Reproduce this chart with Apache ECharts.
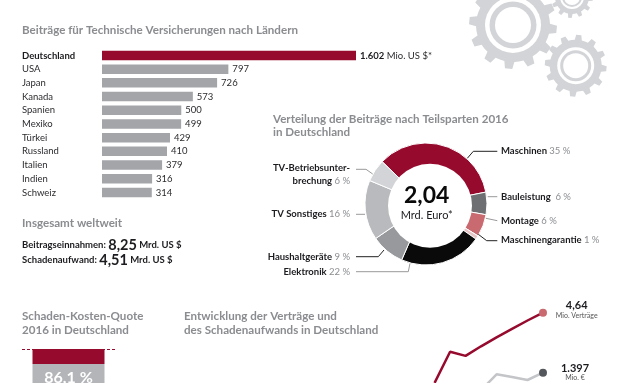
<!DOCTYPE html>
<html><head><meta charset="utf-8">
<style>html,body{margin:0;padding:0;background:#fff}#c{width:621px;height:383px}</style>
<script src="https://cdn.jsdelivr.net/npm/echarts@6/dist/echarts.min.js"></script>
</head><body><div id="c"></div>
<script>
const countries=['Deutschland','USA','Japan','Kanada','Spanien','Mexiko','Türkei','Russland','Italien','Indien','Schweiz'];
const premiums=[1602,797,726,573,500,499,429,410,379,316,314];
const sliceNames=['Maschinen','Bauleistung','Montage','Maschinengarantie','Elektronik','Haushaltgeräte','TV Sonstiges','TV-Betriebsunterbrechung'];
const sliceValues=[35,6,6,1,22,9,16,6];
const sliceColors=['#960a2e','#6e6f72','#c96a70','#e8c4c6','#0a0a0a','#97999c','#b9babd','#d3d4d7'];
const quoteLoss=[86.1];
const quoteRest=[13.9];
const years=['2009','2010','2011','2012','2013','2014','2015','2016'];
const contracts=[3.47,3.99,3.92,4.08,4.23,4.37,4.51,4.64];
const claims=[null,null,null,1221,1381,1353,1324,1397];

const F='"Lato","Open Sans",sans-serif';
const DARK='#1c1c20',GREY='#8b8d91',TITLE='#8a8c90';
function fmt(n){return String(n).replace(/\B(?=(\d{3})+$)/g,'.');}
function txt(x,y,text,o){o=o||{};return {type:'text',z:20,x:x,y:y,style:Object.assign({text:text,fontFamily:F,fontSize:9.5,fontWeight:'bold',fill:DARK,align:'left',verticalAlign:'middle'},o)};}
function title(x,y,t){return txt(x,y,t,{fontSize:11.6,fill:TITLE});}
function lead(pts,c){return {type:'polyline',z:20,shape:{points:pts},style:{stroke:c,lineWidth:1,fill:null}};}
function nameVal(x,y,n,v,al){return txt(x,y,'{n|'+n+'} {v|'+v+'}',{align:al,rich:{n:{fontFamily:F,fontSize:9.5,fontWeight:'bold',fill:DARK},v:{fontFamily:F,fontSize:9.5,fontWeight:'normal',fill:GREY}}});}
function gear(cx,cy,rOut,rBody,teeth,rings){
  const pts=[];const st=Math.PI*2/teeth;
  for(let i=0;i<teeth;i++){const a=i*st+0.1;
    [[-.5,rBody],[-.26,rBody],[-.16,rOut],[.16,rOut],[.26,rBody]].forEach(p=>{pts.push([cx+p[1]*Math.cos(a+p[0]*st),cy+p[1]*Math.sin(a+p[0]*st)]);});
  }
  const g=[{type:'polygon',z:1,shape:{points:pts},style:{fill:'#d2d4d7'}}];
  rings.forEach((r,i)=>g.push({type:'circle',z:1+i+1,shape:{cx:cx,cy:cy,r:r},style:{fill:i%2?'#d2d4d7':'#fff'}}));
  return g;
}
const W='#fff';
const graphics=[].concat(
  gear(513,25,44,37,12,[28,23.5,18]),
  gear(575.7,65.7,31,26,12,[18.5,15.5,12.5]),
  gear(572,-3,21,17,12,[12,10,8]),
  [
  {type:'circle',z:10,shape:{cx:430,cy:205.7,r:42},style:{fill:W}},
  title(22,30.5,'Beiträge für Technische Versicherungen nach Ländern'),
  title(273,119,'Verteilung der Beiträge nach Teilsparten 2016'),
  title(273,132.5,'in Deutschland'),
  title(22,223,'Insgesamt weltweit'),
  title(22,316.5,'Schaden-Kosten-Quote'),
  title(22,330,'2016 in Deutschland'),
  title(184,316.5,'Entwicklung der Verträge und'),
  title(184,330,'des Schadenaufwands in Deutschland'),
  txt(22,245,'{a|Beitragseinnahmen: }{b|8,25}{a| Mrd. US $}',{rich:{a:{fontFamily:F,fontSize:9.5,fontWeight:'bold',fill:DARK},b:{fontFamily:F,fontSize:14.5,fontWeight:'bold',fill:DARK}}}),
  txt(22,260,'{a|Schadenaufwand: }{b|4,51}{a| Mrd. US $}',{rich:{a:{fontFamily:F,fontSize:9.5,fontWeight:'bold',fill:DARK},b:{fontFamily:F,fontSize:14.5,fontWeight:'bold',fill:DARK}}}),
  txt(426.7,195.7,'2,04',{fontSize:23,align:'center',fill:'#0a0a0a'}),
  txt(426.7,215.7,'Mrd. Euro*',{fontSize:11,fontWeight:'normal',align:'center'}),
  nameVal(501,150.7,'Maschinen','35 %','left'),
  nameVal(501,197,'Bauleistung',' 6 %','left'),
  nameVal(501,220.7,'Montage','6 %','left'),
  nameVal(501,240,'Maschinengarantie','1 %','left'),
  txt(350,168,'TV-Betriebsunter-',{align:'right'}),
  nameVal(350,181,'brechung','6 %','right'),
  nameVal(350,214,'TV Sonstiges','16 %','right'),
  nameVal(350,256.7,'Haushaltgeräte','9 %','right'),
  nameVal(350,271.7,'Elektronik','22 %','right'),
  lead([[467.3,158.3],[473.3,151.3],[497.3,151.3]],'#222'),
  lead([[487.7,196.7],[497.3,196.7]],'#999'),
  lead([[486,218.3],[497.3,220.7]],'#999'),
  lead([[478.3,234.3],[486.7,240.7],[497.3,240.7]],'#222'),
  lead([[356,169.3],[366,169.3],[372.7,174]],'#999'),
  lead([[356,214.3],[365,214.3]],'#999'),
  lead([[356,256.7],[378.3,256.7],[384,250]],'#222'),
  lead([[356,271.7],[408.3,271.7],[410,263.3]],'#999'),
  txt(576.7,305.7,'4,64',{fontSize:11,align:'center'}),
  txt(576.7,315.5,'Mio. Verträge',{fontSize:7,fontWeight:'normal',align:'center',fill:'#555'}),
  txt(575,368,'1.397',{fontSize:11,align:'center'}),
  txt(575,378,'Mio. €',{fontSize:7,fontWeight:'normal',align:'center',fill:'#555'})
]);
const chart=echarts.init(document.getElementById('c'),null,{renderer:'canvas'});
const hidden={show:false};
chart.setOption({
  animation:false,
  textStyle:{fontFamily:F},
  graphic:{elements:graphics},
  grid:[
    {left:102,top:48.6,width:254,height:150.7},
    {left:22,top:349,width:93,height:34},
    {left:434.6,top:231.1,width:108.4,height:150},
    {left:434.6,top:232.4,width:108.4,height:150}
  ],
  xAxis:[
    {gridIndex:0,type:'value',min:0,max:1602,show:false},
    {gridIndex:1,type:'category',data:['2016'],show:false},
    {gridIndex:2,type:'category',data:years,boundaryGap:false,show:false},
    {gridIndex:3,type:'category',data:years,boundaryGap:false,show:false}
  ],
  yAxis:[
    {gridIndex:0,type:'category',inverse:true,data:countries,axisLine:hidden,axisTick:hidden,
     axisLabel:{align:'left',margin:80,fontFamily:F,fontSize:9.5,color:'#2c2c30',interval:0,
       formatter:(v,i)=>i===0?'{b|'+v+'}':v,rich:{b:{fontFamily:F,fontSize:9.5,fontWeight:'bold',color:DARK}}}},
    {gridIndex:1,type:'value',min:68.5,max:100,show:false},
    {gridIndex:2,type:'value',min:3.5,max:6,show:false},
    {gridIndex:3,type:'value',min:1300,max:2800,show:false}
  ],
  series:[
    {type:'bar',xAxisIndex:0,yAxisIndex:0,barWidth:9.5,silent:true,
     data:premiums.map((v,i)=>({value:v,itemStyle:{color:i===0?'#960a2e':'#a3a5a8'}})),
     label:{show:true,position:'right',distance:4,fontFamily:F,fontSize:9.5,color:'#2c2c30',
       formatter:p=>p.dataIndex===0?'{b|'+fmt(p.value)+'} Mio. US $*':fmt(p.value),
       rich:{b:{fontFamily:F,fontSize:9.5,fontWeight:'bold',color:DARK}}}},
    {type:'pie',center:[426,204],radius:[36,61],startAngle:136,clockwise:true,silent:true,
     label:hidden,labelLine:hidden,itemStyle:{borderColor:'#fff',borderWidth:1},
     data:sliceNames.map((n,i)=>({name:n,value:sliceValues[i],itemStyle:{color:sliceColors[i]}}))},
    {type:'bar',xAxisIndex:1,yAxisIndex:1,stack:'q',barWidth:72,data:quoteLoss,itemStyle:{color:'#b3b5b8'},
     label:{show:true,position:'insideTop',distance:6,fontFamily:F,fontSize:16,fontWeight:'bold',color:'#fff',formatter:p=>String(p.value).replace('.',',')+' %'}},
    {type:'bar',xAxisIndex:1,yAxisIndex:1,stack:'q',barWidth:72,data:quoteRest,itemStyle:{color:'#960a2e'},
     markLine:{silent:true,symbol:'none',label:hidden,data:[{yAxis:100}],lineStyle:{color:'#960a2e',type:[3,2],width:1}}},
    {type:'line',xAxisIndex:2,yAxisIndex:2,data:contracts.map((v,i)=>i===contracts.length-1?{value:v,symbol:'circle',symbolSize:8,itemStyle:{color:'#c96a70'}}:{value:v,symbol:'none'}),
     showSymbol:true,lineStyle:{color:'#960a2e',width:2.5},itemStyle:{color:'#960a2e'},clip:false},
    {type:'line',xAxisIndex:3,yAxisIndex:3,data:claims.map((v,i)=>i===claims.length-1?{value:v,symbol:'circle',symbolSize:8,itemStyle:{color:'#54575c'}}:{value:v,symbol:'none'}),
     showSymbol:true,lineStyle:{color:'#c4c5c8',width:2.5},itemStyle:{color:'#c4c5c8'},clip:false}
  ]
});
</script></body></html>
